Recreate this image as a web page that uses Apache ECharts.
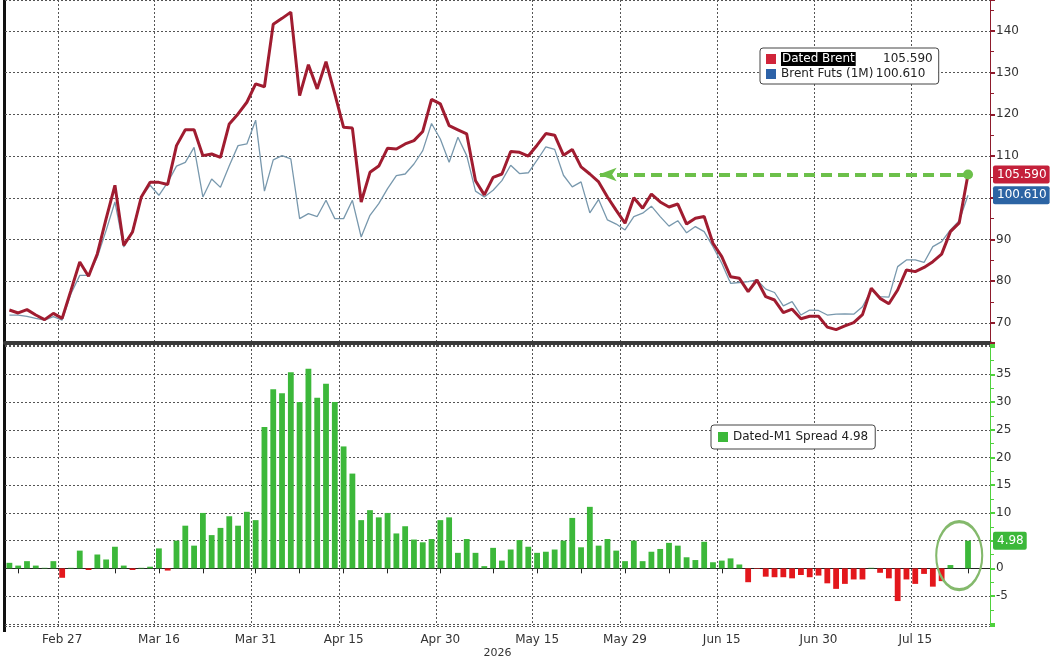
<!DOCTYPE html>
<html><head><meta charset="utf-8">
<script src="https://cdn.jsdelivr.net/npm/echarts@6/dist/echarts.min.js"></script>
<style>html,body{margin:0;padding:0;background:#fff}#c{width:1050px;height:660px}</style>
</head><body><div id="c"></div>
<script>
const categories = [
'Feb 19','Feb 20','Feb 23','Feb 24','Feb 25','Feb 26','Feb 27',
'Mar 2','Mar 3','Mar 4','Mar 5','Mar 6','Mar 9','Mar 10','Mar 11','Mar 12','Mar 13','Mar 16','Mar 17','Mar 18','Mar 19','Mar 20','Mar 23','Mar 24','Mar 25','Mar 26','Mar 27','Mar 30','Mar 31',
'Apr 1','Apr 2','Apr 6','Apr 7','Apr 8','Apr 9','Apr 10','Apr 13','Apr 14','Apr 15','Apr 16','Apr 17','Apr 20','Apr 21','Apr 22','Apr 23','Apr 24','Apr 27','Apr 28','Apr 29','Apr 30',
'May 1','May 4','May 5','May 6','May 7','May 8','May 11','May 12','May 13','May 14','May 15','May 18','May 19','May 20','May 21','May 22','May 25','May 26','May 27','May 28','May 29',
'Jun 1','Jun 2','Jun 3','Jun 4','Jun 5','Jun 8','Jun 9','Jun 10','Jun 11','Jun 12','Jun 15','Jun 16','Jun 17','Jun 18','Jun 19','Jun 22','Jun 23','Jun 24','Jun 25','Jun 26','Jun 29','Jun 30',
'Jul 1','Jul 2','Jul 3','Jul 6','Jul 7','Jul 8','Jul 9','Jul 10','Jul 13','Jul 14','Jul 15','Jul 16','Jul 17','Jul 20','Jul 21','Jul 22','Jul 23','Jul 24','Jul 27'];
const labelDates = ['Feb 27','Mar 16','Mar 31','Apr 15','Apr 30','May 15','May 29','Jun 15','Jun 30','Jul 15'];
const minorTickDates = ['Feb 20','Mar 9','Mar 23','Apr 8','Apr 22','May 8','May 22','Jun 5','Jun 22','Jul 7','Jul 23'];
const datedBrent = [
73.1,72.4,73.2,71.9,70.8,72.3,71.1,
77.8,84.6,81.2,86.6,95,103,88.6,91.8,100.2,103.7,103.7,103.2,112.5,116.3,116.3,110.1,110.5,109.7,117.7,120.1,122.9,127.3,
126.6,141.6,143,144.5,124.5,131.9,126.1,132.6,124.9,116.9,116.7,99,106.1,107.6,111.9,111.7,112.9,113.7,115.9,123.6,122.5,
117.3,116.3,115.3,104.1,100.7,104.9,105.7,111.1,110.9,110,112.6,115.4,115,110.2,111.6,107.4,105.7,103.8,100.2,97,93.9,
100,97.5,100.9,99,97.8,98.5,93.7,95.1,95.5,89.1,85.9,81.1,80.7,77.5,80.3,76.3,75.5,72.5,73.3,71,71.6,71.6,
69,68.4,69.3,70.1,72,78.3,75.9,74.6,77.9,82.7,82.3,83.3,84.7,86.5,91.9,94,105.59];
const brentFuts = [
71.9,71.9,71.6,71.1,70.7,71.5,70.7,
77,81.4,81.4,85.8,92.2,99,88.2,92.2,100.2,103,100.6,103.7,107.6,108.5,112.1,100.2,104.5,102.5,107.7,112.5,112.9,118.6,
101.6,109.1,110.1,109.3,95,96.2,95.5,99.4,95,95,99.4,90.6,95.8,98.6,102.2,105.3,105.7,108.1,111.3,117.8,114.1,
108.5,114.5,110.1,101.6,100.2,101.8,104.1,107.8,105.8,106,109,112.2,111.6,105.4,102.6,103.8,96.4,99.6,94.7,93.7,92.3,
95.5,96.3,98,95.5,93.2,94.5,91.6,93.1,91.9,88.3,84.3,79.5,79.7,79.9,80.3,78.1,77.3,74.1,75.1,71.9,73.1,73,
71.9,72.1,72.2,72.1,73.9,77.9,76.3,76.2,83.5,85.1,85.1,84.5,88.3,89.5,92.3,94.5,100.61];
const spread = [
1.0,0.5,1.3,0.5,0.1,1.3,-1.7,
0.1,3.2,-0.3,2.5,1.6,3.9,0.5,-0.3,0.1,0.3,3.6,-0.4,5,7.7,4.1,10,6,7.3,9.4,7.7,10.2,8.7,
25.5,32.3,31.6,35.4,30,36,30.8,33.3,30,22,17.1,8.7,10.5,9.2,10,6.3,7.6,5.2,4.7,5.3,8.7,
9.2,2.8,5.3,2.8,0.4,3.7,1.4,3.4,5.1,3.9,2.8,3.0,3.4,5,9.1,3.8,11.1,4.1,5.3,3.2,1.3,
5,1.3,3,3.5,4.6,4.1,2,1.5,4.8,1.1,1.4,1.8,0.7,-2.5,-0.1,-1.5,-1.6,-1.6,-1.8,-1.2,-1.6,-1.3,
-2.7,-3.7,-2.8,-2,-2,0.1,-0.8,-1.8,-5.9,-2,-2.8,-1,-3.3,-2.3,0.6,0,4.98];
const arrowTargetDate = 'May 26';
const circleDate = 'Jul 22';

const lastRed = datedBrent[datedBrent.length-1];
const lastBlue = brentFuts[brentFuts.length-1];
const lastSpread = spread[spread.length-1];
const lastDate = categories[datedBrent.length-1];
const FONT = 'DejaVu Sans';
const isLabel = (i,v)=>labelDates.indexOf(categories[i])>=0;
const isTick = (i,v)=>labelDates.indexOf(categories[i])>=0 || minorTickDates.indexOf(categories[i])>=0;
const grid = {color:'#555', type:[2,2], width:1};
const TOPMIN=65.2, TOPMAX=147.4, BMIN=-10.4, BMAX=40.3;
function tag(val, txt, bg){
  return {show:true, type:'line', value:val, status:'show', snap:false, triggerTooltip:false,
    lineStyle:{opacity:0}, handle:{show:false},
    label:{show:true, formatter:txt, backgroundColor:bg, color:'#fff', fontFamily:FONT, fontSize:12, padding:[3,3,3,4], margin:3, borderRadius:2}};
}
const chart = echarts.init(document.getElementById('c'));
chart.setOption({
  animation:false,
  backgroundColor:'#fff',
  grid:[{left:5,right:60,top:0,height:343},{left:5,right:60,top:345,bottom:28}],
  xAxis:[
    {type:'category', gridIndex:0, data:categories, boundaryGap:true,
     axisLine:{show:true, lineStyle:{color:'#3a3a3a', width:4}}, axisTick:{show:false}, axisLabel:{show:false},
     splitLine:{show:true, interval:isLabel, lineStyle:grid}},
    {type:'category', gridIndex:1, data:categories, boundaryGap:true,
     axisLine:{show:true, lineStyle:{color:'#222', width:1}},
     axisTick:{show:true, interval:isTick, alignWithLabel:true, length:5, lineStyle:{color:'#222'}},
     axisLabel:{interval:isLabel, color:'#333', fontFamily:FONT, fontSize:12, margin:8},
     splitLine:{show:true, interval:isLabel, lineStyle:grid},
     name:'2026', nameLocation:'middle', nameGap:22, nameTextStyle:{color:'#333', fontFamily:FONT, fontSize:11}}
  ],
  yAxis:[
    {type:'value', gridIndex:0, position:'right', min:TOPMIN, max:TOPMAX, splitNumber:8,
     axisLine:{show:true, lineStyle:{color:'#8e1b2c', width:1}},
     axisTick:{show:true, inside:false, length:5, lineStyle:{color:'#8e1b2c', width:2}},
     minorTick:{show:true, splitNumber:2, length:4, lineStyle:{color:'#8e1b2c'}},
     axisLabel:{color:'#333', fontFamily:FONT, fontSize:12, margin:6, formatter:v=>(v<68||v>145)?'':String(v)},
     splitLine:{show:true, lineStyle:grid},
     axisPointer:tag(lastRed, lastRed.toFixed(3), '#c4203a')},
    {type:'value', gridIndex:0, position:'right', min:TOPMIN, max:TOPMAX,
     axisLine:{show:false}, axisTick:{show:false}, axisLabel:{show:false}, splitLine:{show:false},
     axisPointer:tag(lastBlue, lastBlue.toFixed(3), '#2c64a4')},
    {type:'value', gridIndex:1, position:'right', min:BMIN, max:BMAX, splitNumber:10,
     axisLine:{show:true, lineStyle:{color:'#4fd13d', width:1}},
     axisTick:{show:true, length:5, lineStyle:{color:'#4fd13d', width:2}},
     minorTick:{show:true, splitNumber:2, length:4, lineStyle:{color:'#4fd13d'}},
     axisLabel:{color:'#333', fontFamily:FONT, fontSize:12, margin:6, formatter:v=>(v<-9||v>38)?'':String(v)},
     splitLine:{show:true, lineStyle:grid},
     axisPointer:tag(lastSpread, lastSpread.toFixed(2), '#3cb83a')}
  ],
  legend:[
    {orient:'vertical', left:760, top:48, padding:[4,6], itemGap:2, itemWidth:10, itemHeight:10, icon:'rect',
     backgroundColor:'#fff', borderColor:'#444', borderWidth:1, borderRadius:3,
     data:[{name:'Dated Brent', itemStyle:{color:'#d0243a'}},{name:'Brent Futs (1M)', itemStyle:{color:'#2d62a8'}}],
     textStyle:{fontFamily:FONT, fontSize:12, color:'#222',
       rich:{h:{backgroundColor:'#000', color:'#fff', fontFamily:FONT, fontSize:12, padding:[1,1]},
             s:{fontFamily:FONT, fontSize:12, width:25},
             n:{fontFamily:FONT, fontSize:12, color:'#222'},
             v:{fontFamily:FONT, fontSize:12, color:'#222', width:52, align:'right'}}},
     formatter:n=> n==='Dated Brent' ? '{h|Dated Brent}{s|}{v|'+lastRed.toFixed(3)+'}' : '{n|Brent Futs (1M)}{v|'+lastBlue.toFixed(3)+'}'},
    {left:711, top:425, padding:[6,7], itemWidth:10, itemHeight:10, icon:'rect',
     backgroundColor:'#fff', borderColor:'#444', borderWidth:1, borderRadius:3,
     data:[{name:'Dated-M1 Spread', itemStyle:{color:'#3cb83a'}}],
     textStyle:{fontFamily:FONT, fontSize:12, color:'#222'},
     formatter:n=>n+' '+lastSpread.toFixed(2)}
  ],
  graphic:[{type:'rect', left:3, top:0, shape:{width:3, height:632}, style:{fill:'#111'}, silent:true}],
  series:[
    {name:'Brent Futs (1M)', type:'line', xAxisIndex:0, yAxisIndex:0, data:brentFuts, symbol:'none',
     lineStyle:{color:'#7898ad', width:1.3}, itemStyle:{color:'#7898ad'}, z:2},
    {name:'Dated Brent', type:'line', xAxisIndex:0, yAxisIndex:0, data:datedBrent, symbol:'none',
     lineStyle:{color:'#a01c30', width:3}, itemStyle:{color:'#a01c30'}, z:3,
     markLine:{silent:true, symbol:['circle','arrow'], symbolSize:[10,18],
       lineStyle:{color:'#6cc04a', type:[11,6], width:4}, label:{show:false},
       data:[[{coord:[lastDate,lastRed]},{coord:[arrowTargetDate,lastRed]}]]}},
    {name:'Dated-M1 Spread', type:'bar', xAxisIndex:1, yAxisIndex:2, data:spread, barWidth:'66%',
     itemStyle:{color:p=>p.value>=0?'#3cb83a':'#e3171c'},
     markPoint:{silent:true, symbol:'circle', symbolSize:[46,68], label:{show:false},
       itemStyle:{color:'rgba(0,0,0,0)', borderColor:'#84b96c', borderWidth:2.5},
       data:[{coord:[circleDate, 2.3]}]}}
  ]
});
</script></body></html>
